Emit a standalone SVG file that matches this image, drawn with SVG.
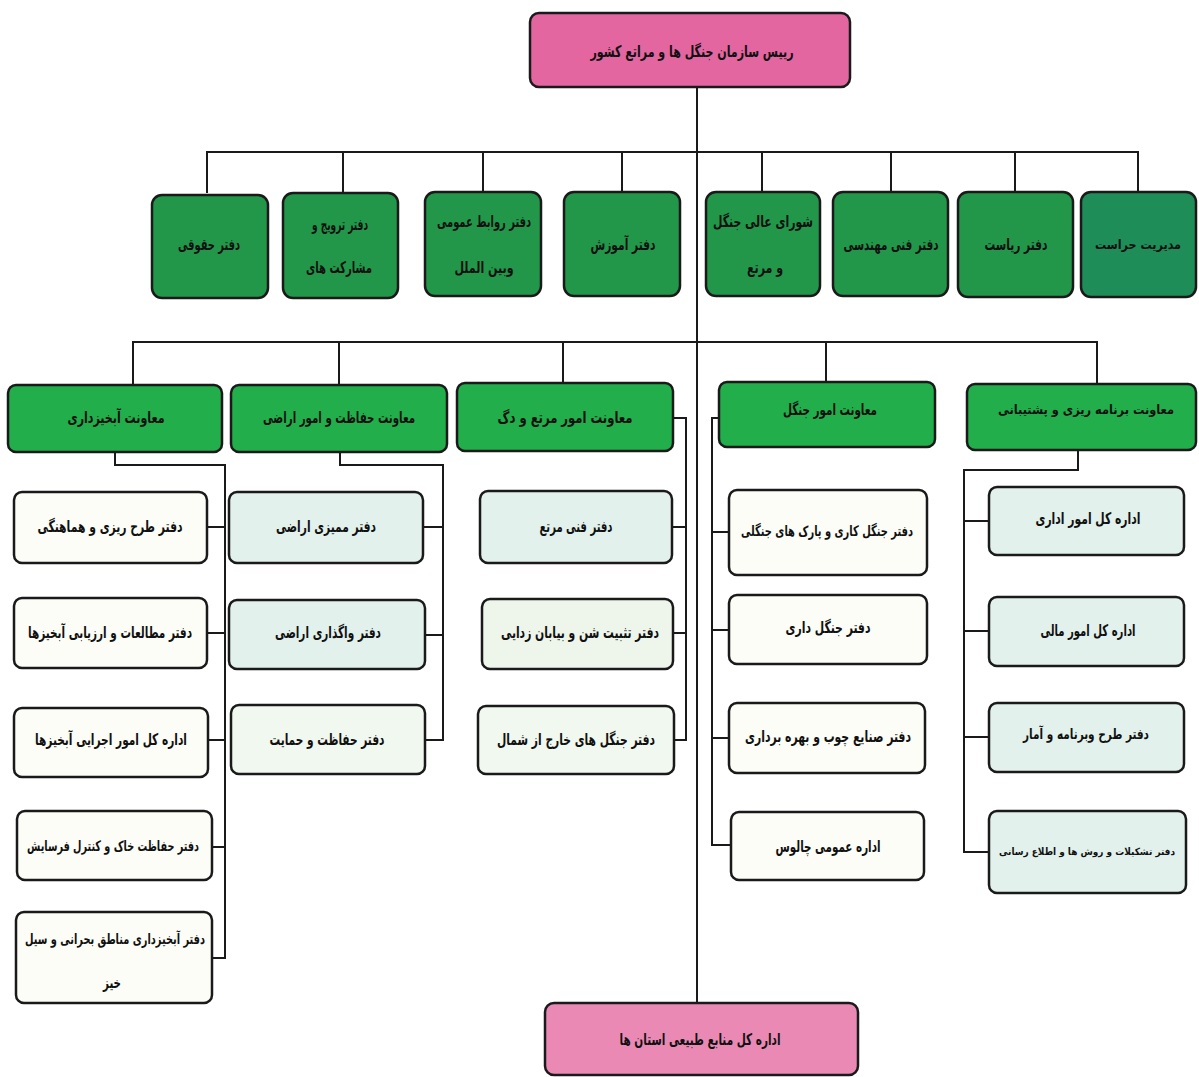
<svg xmlns="http://www.w3.org/2000/svg" width="1199" height="1077" viewBox="0 0 1199 1077">
<style>
rect{stroke:#1a1a1a;stroke-width:2.5}
.pink{fill:#e466a0}
.g2{fill:#22974a}
.g3{fill:#22ae4b}
.w{fill:#fbfdf6}
.t{fill:#e2f1ec}
text{font-family:"DejaVu Sans",sans-serif;font-weight:bold;font-size:16px;fill:#111;text-anchor:middle;dominant-baseline:middle}
text.s{font-size:14.5px}
text.xs{font-size:13px}
text.xxs{font-size:10px}
#connectors path,#connectors line{stroke:#1a1a1a;stroke-width:2;fill:none}
</style>
<rect width="1199" height="1077" fill="#ffffff" style="stroke:none"/>
<g id="connectors">
<line x1="697" y1="87" x2="697" y2="1003"/>
<path d="M207 193V152H1138V193M343 152V193M483 152V193M622 152V193M762 152V193M891 152V193M1015 152V193"/>
<path d="M133 385V342H1097V384M339 342V385M563 342V383M826 342V382"/>
<path d="M115 452V465H225V958H212M207 527H225M207 633H225M208 740H225M212 847H225"/>
<path d="M340 452V465H443V740H425M423 527H443M425 635H443"/>
<path d="M673 418H686V740H674M672 527H686M673 633H686"/>
<path d="M719 418H712V845H731M729 532H712M729 630H712M729 738H712"/>
<path d="M1078 450V470H964V852H989M989 521H964M989 631H964M989 737H964"/>
</g>
<g id="n-top"><rect class="pink" x="530" y="13" width="320" height="74" rx="9"/><text x="692" y="52" textLength="203" lengthAdjust="spacingAndGlyphs">رییس سازمان جنگل ها و مراتع کشور</text></g>
<g id="n-hoghoghi"><rect class="g2" x="152" y="195" width="116" height="103" rx="10"/><text x="209" y="245" textLength="62" lengthAdjust="spacingAndGlyphs">دفتر حقوقی</text></g>
<g id="n-tarvij"><rect class="g2" x="283" y="193" width="115" height="105" rx="10"/><text x="340" y="225" textLength="56" lengthAdjust="spacingAndGlyphs">دفتر ترویج و</text><text x="339" y="268" textLength="66" lengthAdjust="spacingAndGlyphs">مشارکت های</text></g>
<g id="n-ravabet"><rect class="g2" x="425" y="192" width="116" height="104" rx="10"/><text x="484" y="222" textLength="94" lengthAdjust="spacingAndGlyphs">دفتر روابط عمومی</text><text x="484" y="268" textLength="59" lengthAdjust="spacingAndGlyphs">وبین الملل</text></g>
<g id="n-amoozesh"><rect class="g2" x="564" y="192" width="116" height="104" rx="10"/><text x="623" y="245" textLength="65" lengthAdjust="spacingAndGlyphs">دفتر آموزش</text></g>
<g id="n-shora"><rect class="g2" x="706" y="192" width="114" height="104" rx="10"/><text x="763" y="222" textLength="100" lengthAdjust="spacingAndGlyphs">شورای عالی جنگل</text><text x="765" y="268" textLength="36" lengthAdjust="spacingAndGlyphs">و مرتع</text></g>
<g id="n-fanni"><rect class="g2" x="833" y="192" width="115" height="104" rx="10"/><text x="891" y="245" textLength="95" lengthAdjust="spacingAndGlyphs">دفتر فنی مهندسی</text></g>
<g id="n-riasat"><rect class="g2" x="958" y="192" width="115" height="105" rx="10"/><text x="1016" y="245" textLength="63" lengthAdjust="spacingAndGlyphs">دفتر ریاست</text></g>
<g id="n-herasat"><rect x="1081" y="192" width="115" height="105" rx="10" fill="#1f8d57"/><text class="xs" x="1138" y="245" textLength="86" lengthAdjust="spacingAndGlyphs">مدیریت حراست</text></g>
<g id="n-abkhiz"><rect class="g3" x="8" y="385" width="214" height="67" rx="8"/><text x="116" y="418" textLength="97" lengthAdjust="spacingAndGlyphs">معاونت آبخیزداری</text></g>
<g id="n-hefazat"><rect class="g3" x="231" y="385" width="216" height="67" rx="8"/><text x="339" y="418" textLength="152" lengthAdjust="spacingAndGlyphs">معاونت حفاظت و امور اراضی</text></g>
<g id="n-marta"><rect class="g3" x="457" y="383" width="216" height="68" rx="8"/><text x="565" y="418" textLength="135" lengthAdjust="spacingAndGlyphs">معاونت امور مرتع و دگ</text></g>
<g id="n-jangal"><rect class="g3" x="719" y="382" width="216" height="65" rx="8"/><text x="830" y="410" textLength="94" lengthAdjust="spacingAndGlyphs">معاونت امور جنگل</text></g>
<g id="n-barname"><rect class="g3" x="967" y="384" width="229" height="66" rx="8"/><text class="xs" x="1086" y="410" textLength="176" lengthAdjust="spacingAndGlyphs">معاونت برنامه ریزی و پشتیبانی</text></g>
<g id="n-c1a"><rect class="w" x="14" y="492" width="193" height="71" rx="8"/><text x="110" y="527" textLength="145" lengthAdjust="spacingAndGlyphs">دفتر طرح ریزی و هماهنگی</text></g>
<g id="n-c1b"><rect class="w" x="14" y="598" width="193" height="70" rx="8"/><text x="110" y="633" textLength="164" lengthAdjust="spacingAndGlyphs">دفتر مطالعات و ارزیابی آبخیزها</text></g>
<g id="n-c1c"><rect class="w" x="14" y="708" width="194" height="69" rx="8"/><text x="111" y="740" textLength="152" lengthAdjust="spacingAndGlyphs">اداره کل امور اجرایی آبخیزها</text></g>
<g id="n-c1d"><rect class="w" x="17" y="811" width="195" height="69" rx="8"/><text class="s" x="113" y="847" textLength="172" lengthAdjust="spacingAndGlyphs">دفتر حفاظت خاک و کنترل فرسایش</text></g>
<g id="n-c1e"><rect class="w" x="16" y="912" width="196" height="91" rx="8"/><text class="s" x="115" y="940" textLength="180" lengthAdjust="spacingAndGlyphs">دفتر آبخیزداری مناطق بحرانی و سیل</text><text x="112" y="983" textLength="18" lengthAdjust="spacingAndGlyphs">خیز</text></g>
<g id="n-c2a"><rect class="t" x="229" y="492" width="194" height="71" rx="8"/><text x="326" y="527" textLength="100" lengthAdjust="spacingAndGlyphs">دفتر ممیزی اراضی</text></g>
<g id="n-c2b"><rect class="t" x="229" y="600" width="196" height="69" rx="8"/><text x="328" y="633" textLength="106" lengthAdjust="spacingAndGlyphs">دفتر واگذاری اراضی</text></g>
<g id="n-c2c"><rect x="231" y="705" width="194" height="69" rx="8" fill="#f1f8ef"/><text x="327" y="740" textLength="115" lengthAdjust="spacingAndGlyphs">دفتر حفاظت و حمایت</text></g>
<g id="n-c3a"><rect class="t" x="480" y="491" width="192" height="72" rx="8"/><text x="576" y="527" textLength="73" lengthAdjust="spacingAndGlyphs">دفتر فنی مرتع</text></g>
<g id="n-c3b"><rect x="482" y="599" width="191" height="70" rx="8" fill="#eef6ec"/><text x="580" y="633" textLength="158" lengthAdjust="spacingAndGlyphs">دفتر تثبیت شن و بیابان زدایی</text></g>
<g id="n-c3c"><rect x="478" y="706" width="196" height="68" rx="8" fill="#f1f8ef"/><text x="576" y="740" textLength="158" lengthAdjust="spacingAndGlyphs">دفتر جنگل های خارج از شمال</text></g>
<g id="n-c4a"><rect class="w" x="729" y="490" width="198" height="85" rx="8"/><text class="s" x="827" y="532" textLength="172" lengthAdjust="spacingAndGlyphs">دفتر جنگل کاری و پارک های جنگلی</text></g>
<g id="n-c4b"><rect class="w" x="729" y="595" width="198" height="69" rx="8"/><text x="828" y="628" textLength="85" lengthAdjust="spacingAndGlyphs">دفتر جنگل داری</text></g>
<g id="n-c4c"><rect class="w" x="729" y="703" width="196" height="70" rx="8"/><text x="828" y="737" textLength="166" lengthAdjust="spacingAndGlyphs">دفتر صنایع چوب و بهره برداری</text></g>
<g id="n-c4d"><rect class="w" x="731" y="812" width="193" height="68" rx="8"/><text x="828" y="847" textLength="105" lengthAdjust="spacingAndGlyphs">اداره عمومی چالوس</text></g>
<g id="n-c5a"><rect class="t" x="989" y="487" width="195" height="68" rx="8"/><text x="1088" y="519" textLength="105" lengthAdjust="spacingAndGlyphs">اداره کل امور اداری</text></g>
<g id="n-c5b"><rect class="t" x="989" y="597" width="195" height="69" rx="8"/><text x="1088" y="631" textLength="95" lengthAdjust="spacingAndGlyphs">اداره کل امور مالی</text></g>
<g id="n-c5c"><rect class="t" x="989" y="703" width="195" height="69" rx="8"/><text class="s" x="1086" y="735" textLength="126" lengthAdjust="spacingAndGlyphs">دفتر طرح وبرنامه و آمار</text></g>
<g id="n-c5d"><rect class="t" x="989" y="811" width="197" height="82" rx="8"/><text class="xxs" x="1087" y="852" textLength="176" lengthAdjust="spacingAndGlyphs">دفتر تشکیلات و روش ها و اطلاع رسانی</text></g>
<g id="n-bottom"><rect class="pink" x="545" y="1003" width="313" height="72" rx="9" style="fill:#ea8ab4"/><text x="700" y="1040" textLength="161" lengthAdjust="spacingAndGlyphs">اداره کل منابع طبیعی استان ها</text></g>
</svg>
